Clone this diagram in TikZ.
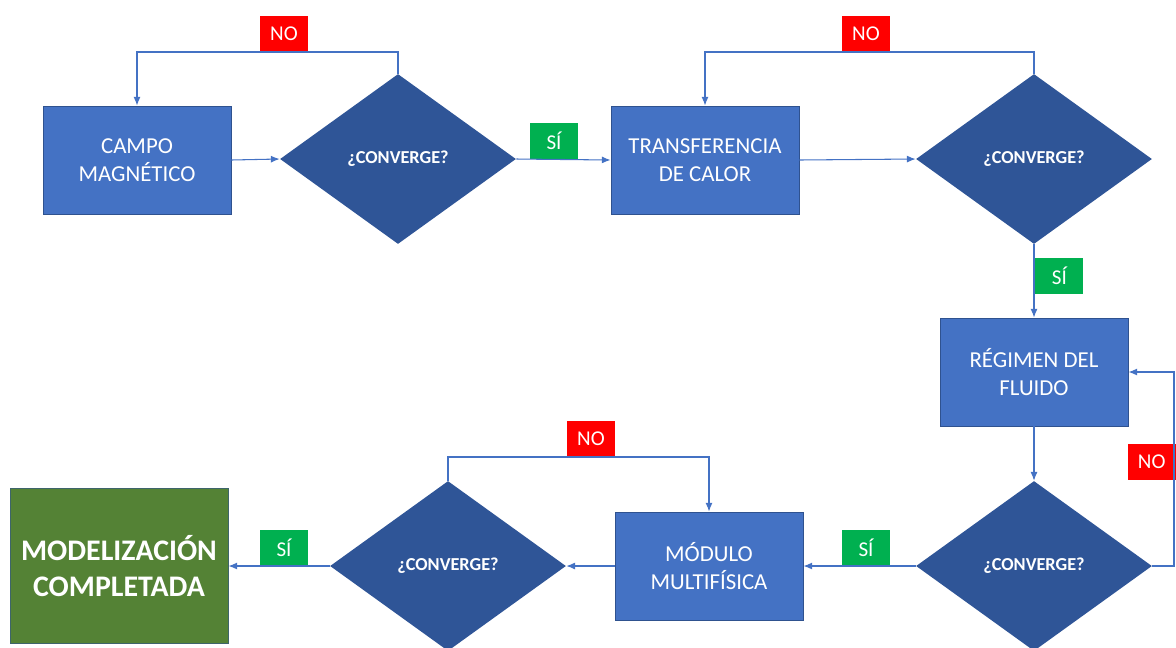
\documentclass[tikz,border=0pt]{standalone}
\usepackage{fontspec}
\setmainfont{Carlito}
\usepackage{tikz}
\usetikzlibrary{arrows.meta, positioning, shapes.geometric}
\definecolor{boxblue}{HTML}{4472C4}
\definecolor{boxedge}{HTML}{2F528F}
\definecolor{askblue}{HTML}{2F5597}
\definecolor{donegreen}{HTML}{548235}
\definecolor{nored}{HTML}{FF0000}
\definecolor{yesgreen}{HTML}{00B050}

\begin{document}
\begin{tikzpicture}[
            x=0.02cm, y=-0.02cm,
            stage/.style={draw=boxedge, fill=boxblue, line width=0.5pt, minimum width=3.76cm, minimum height=2.16cm, align=center, text=white, font=\fontsize{13}{16}\selectfont, inner sep=2pt},
            ask/.style={diamond, fill=askblue, minimum width=4.72cm, minimum height=3.4cm, inner sep=0pt, text=white, font=\fontsize{10.4}{12}\selectfont\bfseries},
            finish/.style={draw=boxedge!60!donegreen, fill=donegreen, line width=0.5pt, minimum width=4.36cm, minimum height=3.1cm, align=center, text=white, font=\fontsize{17}{20.5}\selectfont\bfseries},
            tag/.style={fill=#1, minimum width=0.96cm, minimum height=0.71cm, inner sep=0pt, text=white, font=\fontsize{12}{14}\selectfont},
            link/.style={draw=boxblue, line width=0.6pt, -{Latex[length=5pt, width=4pt]}}
        ]
          \path[use as bounding box, clip] (0,0) rectangle (1176,647);

          \node[stage] (campo) at (137,160) {CAMPO\\MAGNÉTICO};
          \node[ask] (q1) at (398,159) {¿CONVERGE?};
          \node[stage] (calor) at (705,160) {TRANSFERENCIA\\DE CALOR};
          \node[ask] (q2) at (1034,159) {¿CONVERGE?};
          \node[stage] (fluido) at (1034,372) {RÉGIMEN DEL\\FLUIDO};
          \node[ask] (q3) at (1034,566) {¿CONVERGE?};
          \node[stage] (multi) at (709,566) {MÓDULO\\MULTIFÍSICA};
          \node[ask] (q4) at (448,566) {¿CONVERGE?};
          \node[finish] (fin) at (119,566) {MODELIZACIÓN\\COMPLETADA};

          \node[tag=nored, anchor=south] (no1) at (284,52) {NO};
          \node[tag=nored, anchor=south] (no2) at (866,52) {NO};
          \node[tag=nored, anchor=east] (no3) at (1176,462) {NO};
          \node[tag=nored, anchor=south] (no4) at (591,457) {NO};
          \node[tag=yesgreen, anchor=south] (si1) at (554,159) {SÍ};
          \node[tag=yesgreen, anchor=west] (si2) at (1035,276) {SÍ};
          \node[tag=yesgreen, anchor=south] (si3) at (866,566) {SÍ};
          \node[tag=yesgreen, anchor=south] (si4) at (284,566) {SÍ};
          \coordinate (c3) at (1174,462);

          \draw[link] (campo.east) -- (q1.west);
          \draw[link] (q1.north) -- (q1.north |- no1.south) -| (campo.north);
          \draw[link] (q1.east) -- (calor.west);
          \draw[link] (calor.east) -- (q2.west);
          \draw[link] (q2.north) -- (q2.north |- no2.south) -| (calor.north);
          \draw[link] (q2.south) -- (fluido.north);
          \draw[link] (fluido.south) -- (q3.north);
          \draw[link] (q3.east) -| (c3) |- (fluido.east);
          \draw[link] (q3.west) -- (multi.east);
          \draw[link] (multi.west) -- (q4.east);
          \draw[link] (q4.north) -- (q4.north |- no4.south) -| (multi.north);
          \draw[link] (q4.west) -- (fin.east);
        \end{tikzpicture}
\end{document}
